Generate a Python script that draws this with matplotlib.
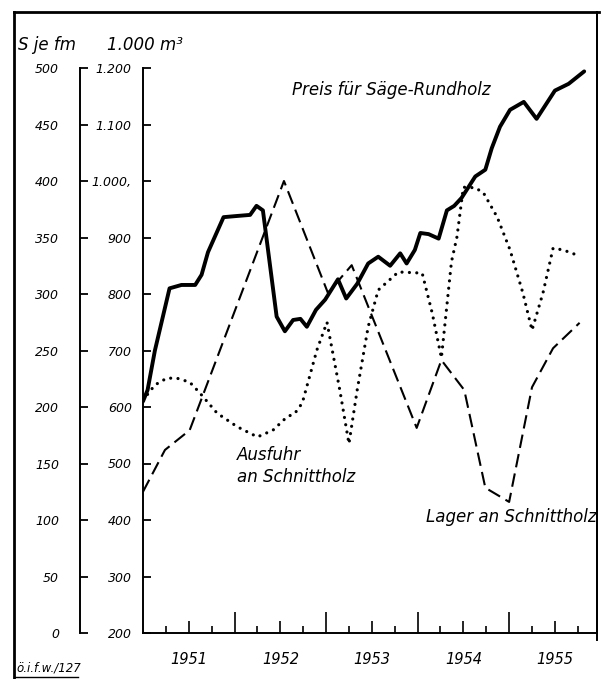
import matplotlib
matplotlib.use("Agg")
import matplotlib.pyplot as plt
from matplotlib.lines import Line2D

# ---------------------------------------------------------------
# Values (time in decimal years)
# ---------------------------------------------------------------
# Preis fuer Saege-Rundholz, S je fm (left scale)
preis_t = [1951.00, 1951.05, 1951.13, 1951.29, 1951.42, 1951.57, 1951.64, 1951.71,
           1951.88, 1952.02, 1952.17, 1952.24, 1952.31, 1952.46, 1952.55, 1952.64,
           1952.72, 1952.79, 1952.89, 1952.99, 1953.13, 1953.22, 1953.34, 1953.46,
           1953.57, 1953.70, 1953.81, 1953.88, 1953.97, 1954.03, 1954.12, 1954.23,
           1954.32, 1954.40, 1954.48, 1954.63, 1954.74, 1954.81, 1954.90, 1955.01,
           1955.16, 1955.30, 1955.50, 1955.65, 1955.82]
preis_s = [205, 215, 250, 305, 308, 308, 317, 337,
           368, 369, 370, 378, 374, 280, 267, 277,
           278, 271, 286, 295, 313, 296, 309, 327,
           333, 325, 336, 327, 339, 354, 353, 349,
           374, 378, 385, 404, 410, 429, 448, 463,
           470, 455, 480, 486, 497]

# Ausfuhr an Schnittholz, 1.000 m3 (right scale)
ausfuhr_t = [1951.00, 1951.13, 1951.26, 1951.37, 1951.51, 1951.62, 1951.81, 1952.03,
             1952.25, 1952.42, 1952.57, 1952.66, 1952.74, 1952.90, 1953.01, 1953.15,
             1953.25, 1953.34, 1953.46, 1953.57, 1953.79, 1954.05, 1954.16, 1954.26,
             1954.37, 1954.43, 1954.50, 1954.63, 1954.72, 1954.87, 1955.01, 1955.15,
             1955.25, 1955.37, 1955.48, 1955.59, 1955.74]
ausfuhr_v = [612, 639, 651, 651, 644, 625, 589, 565,
             547, 559, 582, 589, 607, 701, 750, 630,
             535, 630, 742, 807, 839, 837, 766, 687,
             857, 901, 989, 988, 979, 936, 878, 802,
             736, 802, 881, 878, 869]

# Lager an Schnittholz, 1.000 m3 (right scale)
lager_t = [1951.00, 1951.24, 1951.51, 1952.54, 1953.02, 1953.28, 1953.99, 1954.26,
           1954.51, 1954.74, 1955.00, 1955.25, 1955.48, 1955.77]
lager_v = [450, 524, 559, 1000, 802, 851, 563, 683,
           630, 457, 432, 635, 704, 749]

s_ticks = [0, 50, 100, 150, 200, 250, 300, 350, 400, 450, 500]
m3_ticks = [200, 300, 400, 500, 600, 700, 800, 900, 1000, 1100, 1200]
m3_labels = ["200", "300", "400", "500", "600", "700", "800", "900",
             "1.000,", "1.100", "1.200"]
years = [1951, 1952, 1953, 1954, 1955]

# ---------------------------------------------------------------
W, H = 613, 679
fig = plt.figure(figsize=(W / 100, H / 100), dpi=100)
plt.rcParams["font.family"] = "DejaVu Sans"

def fx(px):
    return px / W

def fy(py):
    return 1 - py / H

L, R, B, T = 143, 597, 633, 12
rect = [fx(L), fy(B), fx(R) - fx(L), fy(T) - fy(B)]

ax = fig.add_axes(rect)
ax_s = fig.add_axes(rect)
ax_s.patch.set_visible(False)

ax.set_xlim(1951.0, 1955.96)
ax.set_ylim(200, 200 + (B - T) / 0.565)
ax_s.set_xlim(ax.get_xlim())
ax_s.set_ylim(0, (B - T) / 1.13)

lw_sp = 1.4
for a in (ax, ax_s):
    for sp in a.spines.values():
        sp.set_visible(False)

ax.spines["left"].set_visible(True)
ax.spines["left"].set_bounds(200, 1200)
ax.spines["bottom"].set_visible(True)
ax.spines["right"].set_visible(True)
for k in ("left", "bottom", "right"):
    ax.spines[k].set_linewidth(lw_sp)

ax_s.spines["left"].set_visible(True)
ax_s.spines["left"].set_position(("axes", -(L - 80) / (R - L)))
ax_s.spines["left"].set_bounds(0, 500)
ax_s.spines["left"].set_linewidth(lw_sp)

tfont = dict(style="italic", size=9)

ax.set_yticks(m3_ticks)
ax.set_yticklabels(m3_labels, **tfont)
ax.tick_params(axis="y", direction="in", length=6, width=1.3, pad=8,
               right=False)

ax_s.set_yticks(s_ticks)
ax_s.set_yticklabels([str(v) for v in s_ticks], **tfont)
ax_s.tick_params(axis="y", direction="in", length=6, width=1.3, pad=15)
ax_s.set_xticks([])

# x ticks: mid-year labelled, quarter minor, year boundaries long
ax.set_xticks([y + 0.5 for y in years])
ax.set_xticklabels([str(y) for y in years], style="italic", size=10.5)
ax.set_xticks([y + q for y in years for q in (0.25, 0.75)], minor=True)
ax.tick_params(axis="x", which="major", direction="in", length=9, width=1.2, pad=14)
ax.tick_params(axis="x", which="minor", direction="in", length=5, width=1.2)

sec = ax.secondary_xaxis("bottom")
sec.set_xticks(years[1:])
sec.tick_params(direction="in", length=15, width=1.2, labelbottom=False)
sec.spines["bottom"].set_visible(False)

# series
ax_s.plot(preis_t, preis_s, color="black", lw=2.8, solid_joinstyle="round",
          solid_capstyle="round")
ax.plot(lager_t, lager_v, color="black", lw=1.5, dashes=(6.5, 3))
ax.plot(ausfuhr_t, ausfuhr_v, color="black", lw=2.3, dashes=(0.01, 2.3),
        dash_capstyle="round")

# annotations
afont = dict(style="italic", size=12, color="black")
fig.text(fx(292), fy(90), "Preis für Säge-Rundholz", va="center", ha="left", **afont)
fig.text(fx(237), fy(455), "Ausfuhr", va="center", ha="left", **afont)
fig.text(fx(237), fy(477), "an Schnittholz", va="center", ha="left", **afont)
fig.text(fx(426), fy(517), "Lager an Schnittholz", va="center", ha="left", **afont)

fig.text(fx(18), fy(45), "S je fm", va="center", ha="left", style="italic", size=12)
fig.text(fx(107), fy(45), "1.000 m³", va="center", ha="left", style="italic", size=12)
fig.text(fx(16), fy(668), "ö.i.f.w./127", va="center", ha="left", style="italic", size=8.5)

# outer frame
fig.add_artist(Line2D([fx(14), fx(14)], [fy(12), 0], color="black", lw=2))
fig.add_artist(Line2D([fx(14), fx(599)], [fy(12), fy(12)], color="black", lw=2))
fig.add_artist(Line2D([fx(597), fx(597)], [fy(12), fy(640)], color="black", lw=1.4))
fig.add_artist(Line2D([fx(14), fx(78)], [fy(677), fy(677)], color="black", lw=1))

fig.savefig("out.png", dpi=100)
